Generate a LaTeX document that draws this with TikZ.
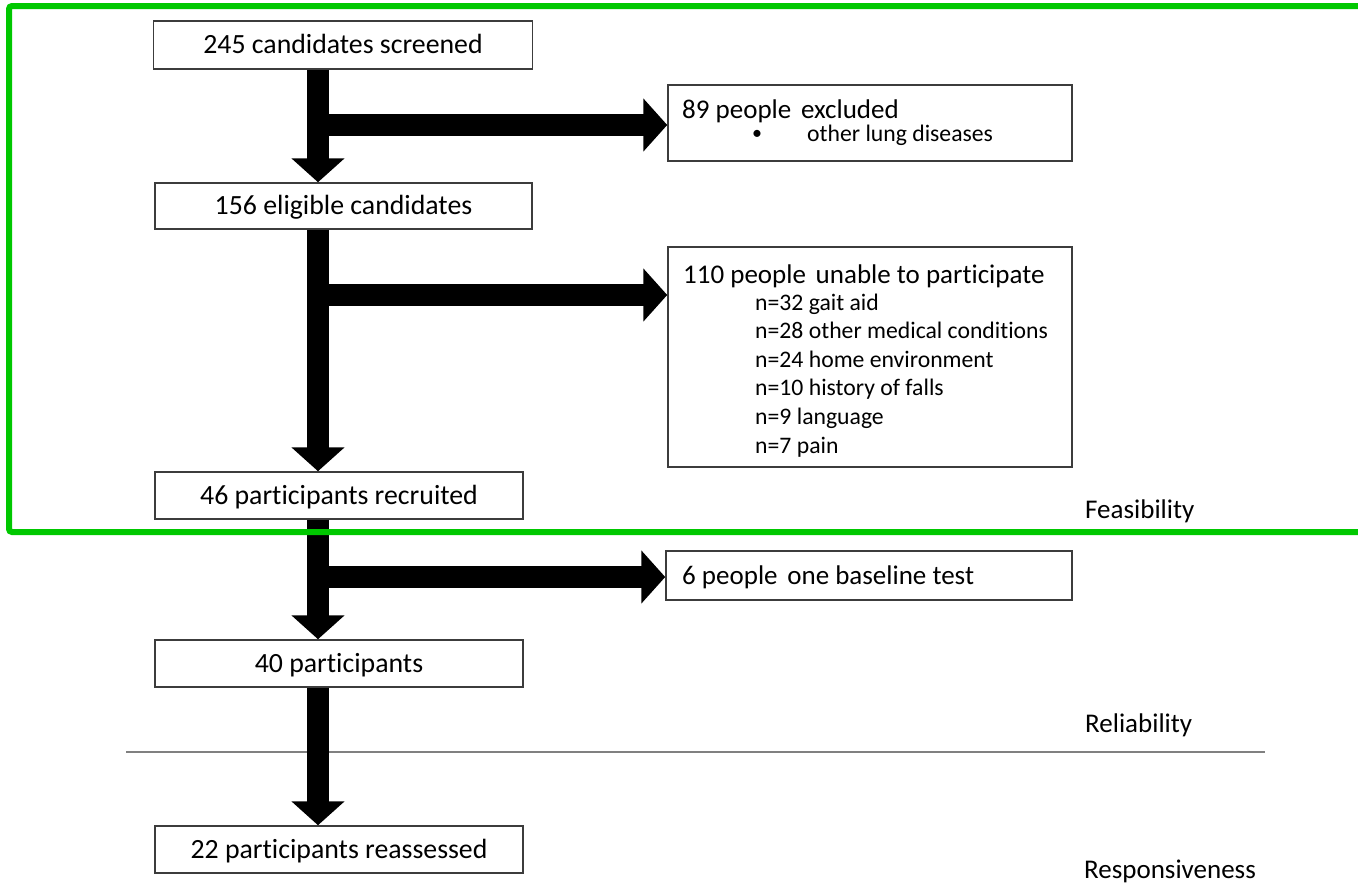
\documentclass[tikz,border=0pt]{standalone}
\usepackage{fontspec}
\setmainfont{Carlito}[Ligatures=NoCommon]
\usetikzlibrary{arrows.meta}
\definecolor{framegreen}{RGB}{0,200,0}
\definecolor{boxline}{RGB}{60,60,60}
\newcommand{\wsp}{\hspace{0.36em}}
\begin{document}
\begin{tikzpicture}[x=1pt,y=-1pt,
  mainbox/.style={draw=boxline,line width=1.5pt,fill=white,inner sep=0pt,
    font=\fontsize{27.8}{30}\selectfont,text height=17.8pt,text depth=0pt},
  sidebox/.style={draw=boxline,line width=1.5pt,fill=white,inner sep=0pt},
  titletext/.style={anchor=base west,inner sep=0pt,font=\fontsize{27}{30}\selectfont},
  itemtext/.style={anchor=base west,inner sep=0pt,font=\fontsize{23.7}{28}\selectfont},
  labeltext/.style={anchor=base west,inner sep=0pt,font=\fontsize{27}{30}\selectfont},
  fatarrow/.style={line width=22pt,-{Triangle[length=24pt,width=52pt]}}
]
\useasboundingbox (0,0) rectangle (1358,884);
% section divider
\draw[gray,line width=2pt] (126,752) -- (1265,752);

% main boxes
\node[mainbox,minimum width=379pt,minimum height=48pt] (b1) at (343,45) {245 candidates screened};
\node[mainbox,minimum width=377pt,minimum height=46pt] (b2) at (343.5,206) {156 eligible candidates};
\node[mainbox,minimum width=368pt,minimum height=47pt] (b3) at (339,495.5) {46 participants recruited};
\node[mainbox,minimum width=368pt,minimum height=47pt] (b4) at (339,663.5) {40 participants};
\node[mainbox,minimum width=368pt,minimum height=47pt] (b5) at (339,849.5) {22 participants reassessed};

% side boxes
\node[sidebox,minimum width=404pt,minimum height=76pt] (s1) at (870,123) {};
\node[sidebox,minimum width=404pt,minimum height=220pt] (s2) at (870,357) {};
\node[sidebox,minimum width=406pt,minimum height=49pt] (s3) at (869,575.5) {};

% side box texts
\node[titletext] (t1) at (682,118) {89 people\wsp excluded};
\node[itemtext,font=\fontsize{20}{24}\selectfont] (t1a) at (752,139) {•};
\node[itemtext] (t1b) at (807,141) {other lung diseases};

\node[titletext] (t2) at (683,283) {110 people\wsp unable to participate};
\node[itemtext] (t2a) at (755,310) {n=32 gait aid};
\node[itemtext] (t2b) at (755,338.6) {n=28 other medical conditions};
\node[itemtext] (t2c) at (755,367.2) {n=24 home environment};
\node[itemtext] (t2d) at (755,395.8) {n=10 history of falls};
\node[itemtext] (t2e) at (755,424.4) {n=9 language};
\node[itemtext] (t2f) at (755,453) {n=7 pain};

\node[titletext] (t3) at (682,584) {6 people\wsp one baseline test};

% phase labels
\node[labeltext] (lf) at (1085,518) {Feasibility};
\node[labeltext] (lr) at (1085,732) {Reliability};
\node[labeltext] (lp) at (1084,878) {Responsiveness};

% spine coordinates
\coordinate (j1) at (318,125);
\coordinate (j2) at (318,295);
\coordinate (j3) at (318,577);

% arrows
\draw[fatarrow] (b1.south -| j1) -- (b2.north -| j1);
\draw[fatarrow] (j1) -- (s1.west |- j1);
\draw[fatarrow] (b2.south -| j2) -- (b3.north -| j2);
\draw[fatarrow] (j2) -- (s2.west |- j2);
\draw[fatarrow] (b3.south -| j3) -- (b4.north -| j3);
\draw[fatarrow] (j3) -- (s3.west |- j3);
\draw[fatarrow] (b4.south -| j3) -- (b5.north -| j3);

% green frame
\draw[framegreen,line width=6pt,rounded corners=3pt] (1375,6) -- (9,6) -- (9,532) -- (1375,532);
\end{tikzpicture}
\end{document}
